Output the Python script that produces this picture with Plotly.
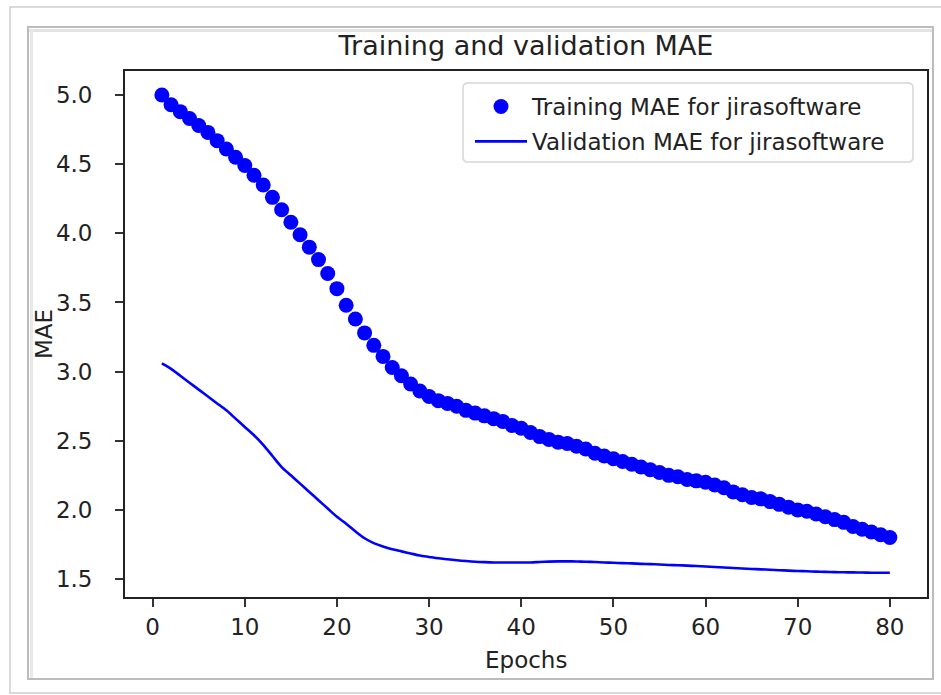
import plotly.graph_objects as go

# Training history (MAE per epoch)
epochs = list(range(1, 81))

train_mae = [
    5.00, 4.93, 4.88, 4.83, 4.78, 4.73, 4.67, 4.61, 4.55, 4.49,
    4.42, 4.35, 4.26, 4.17, 4.08, 3.99, 3.90, 3.81, 3.71, 3.60,
    3.48, 3.38, 3.28, 3.19, 3.11, 3.03, 2.97, 2.91, 2.86, 2.82,
    2.79, 2.77, 2.75, 2.72, 2.70, 2.68, 2.66, 2.64, 2.61, 2.59,
    2.56, 2.53, 2.51, 2.49, 2.48, 2.46, 2.44, 2.41, 2.39, 2.37,
    2.35, 2.33, 2.31, 2.29, 2.27, 2.25, 2.24, 2.22, 2.21, 2.20,
    2.18, 2.16, 2.13, 2.11, 2.09, 2.08, 2.06, 2.04, 2.02, 2.00,
    1.99, 1.97, 1.95, 1.93, 1.91, 1.88, 1.86, 1.84, 1.82, 1.80,
]

val_mae = [
    3.06, 3.02, 2.97, 2.92, 2.87, 2.82, 2.77, 2.72, 2.66, 2.60,
    2.54, 2.47, 2.39, 2.31, 2.25, 2.19, 2.13, 2.07, 2.01, 1.95,
    1.90, 1.845, 1.795, 1.76, 1.735, 1.715, 1.70, 1.685, 1.67, 1.66,
    1.65, 1.643, 1.636, 1.63, 1.625, 1.622, 1.62, 1.62, 1.62, 1.62,
    1.62, 1.623, 1.626, 1.628, 1.628, 1.627, 1.625, 1.623, 1.62, 1.618,
    1.615, 1.613, 1.61, 1.608, 1.605, 1.602, 1.60, 1.597, 1.594, 1.591,
    1.587, 1.583, 1.58, 1.576, 1.573, 1.57, 1.567, 1.564, 1.561, 1.558,
    1.556, 1.554, 1.552, 1.55, 1.549, 1.548, 1.547, 1.546, 1.545, 1.545,
]

x_ticks = [0, 10, 20, 30, 40, 50, 60, 70, 80]
y_ticks = [1.5, 2.0, 2.5, 3.0, 3.5, 4.0, 4.5, 5.0]

title_text = "Training and validation MAE"
x_label = "Epochs"
y_label = "MAE"
train_name = "Training MAE for jirasoftware"
val_name = "Validation MAE for jirasoftware"

W, H = 941, 695
FONT = "DejaVu Sans"
TEXT = "#222222"


def fx(p):
    return p / W


def fy(p):
    return 1 - p / H


fig = go.Figure()
fig.add_trace(go.Scatter(
    x=epochs, y=train_mae, mode="markers", name=train_name,
    legendgroup="train",
    marker=dict(color="blue", size=15, line=dict(width=0)),
))
fig.add_trace(go.Scatter(
    x=epochs, y=val_mae, mode="lines", name=val_name,
    legendgroup="val",
    line=dict(color="blue", width=2.6, shape="spline", smoothing=0.8),
))

axis_common = dict(
    showgrid=False, zeroline=False,
    showline=True, linecolor="#222222", linewidth=1.8, mirror=True,
    ticks="outside", ticklen=8, tickwidth=1.6, tickcolor="#333333",
    tickfont=dict(family=FONT, size=23, color=TEXT),
    automargin=False,
)

fig.update_layout(
    width=W, height=H,
    margin=dict(l=0, r=0, t=0, b=0),
    paper_bgcolor="white", plot_bgcolor="white",
    font=dict(family=FONT, color=TEXT),
    title=dict(
        text=title_text, x=fx(526), xanchor="center",
        y=fy(46), yanchor="middle",
        font=dict(family=FONT, size=27, color=TEXT),
    ),
    xaxis=dict(
        domain=[fx(125), fx(926.7)], range=[-3.0, 84.0],
        tickvals=x_ticks, ticktext=[str(v) for v in x_ticks],
        **axis_common,
    ),
    yaxis=dict(
        domain=[fy(597.3), fy(70.7)], range=[1.368, 5.176],
        tickvals=y_ticks, ticktext=[f"{v:.1f}" for v in y_ticks],
        ticklabelstandoff=18,
        **axis_common,
    ),
    legend=dict(
        x=fx(470), xanchor="left", y=fy(85), yanchor="top",
        bgcolor="rgba(0,0,0,0)", borderwidth=0,
        font=dict(family=FONT, size=23, color=TEXT),
        tracegroupgap=2, itemwidth=52,
    ),
    showlegend=True,
)

# legend box with rounded corners
lx0, ly0, lx1, ly1, rr = 463, 83, 913, 162, 5
box_path = (
    f"M {fx(lx0 + rr)},{fy(ly0)} L {fx(lx1 - rr)},{fy(ly0)} "
    f"Q {fx(lx1)},{fy(ly0)} {fx(lx1)},{fy(ly0 + rr)} "
    f"L {fx(lx1)},{fy(ly1 - rr)} Q {fx(lx1)},{fy(ly1)} {fx(lx1 - rr)},{fy(ly1)} "
    f"L {fx(lx0 + rr)},{fy(ly1)} Q {fx(lx0)},{fy(ly1)} {fx(lx0)},{fy(ly1 - rr)} "
    f"L {fx(lx0)},{fy(ly0 + rr)} Q {fx(lx0)},{fy(ly0)} {fx(lx0 + rr)},{fy(ly0)} Z"
)
fig.add_shape(type="path", xref="paper", yref="paper", path=box_path,
              fillcolor="rgba(255,255,255,0.85)",
              line=dict(color="#d6d6d6", width=1.5), layer="above")

# axis labels
fig.add_annotation(
    text=y_label, x=fx(44), y=fy(334), xref="paper", yref="paper",
    textangle=-90, showarrow=False, xanchor="center", yanchor="middle",
    font=dict(family=FONT, size=23, color=TEXT),
)
fig.add_annotation(
    text=x_label, x=fx(526), y=fy(660), xref="paper", yref="paper",
    showarrow=False, xanchor="center", yanchor="middle",
    font=dict(family=FONT, size=23, color=TEXT),
)

# window frame around the figure
fig.add_shape(type="rect", xref="paper", yref="paper",
              x0=fx(10), y0=fy(693), x1=fx(960), y1=fy(7),
              line=dict(color="#cdcdcd", width=1.5), layer="below")
fig.add_shape(type="rect", xref="paper", yref="paper",
              x0=fx(28), y0=fy(679), x1=fx(933), y1=fy(27),
              line=dict(color="#bcbcbc", width=2), layer="below")
fig.add_shape(type="line", xref="paper", yref="paper",
              x0=fx(29), y0=fy(30.5), x1=fx(932), y1=fy(30.5),
              line=dict(color="#e2e2e2", width=3), layer="below")
fig.add_shape(type="line", xref="paper", yref="paper",
              x0=fx(31.5), y0=fy(30), x1=fx(31.5), y1=fy(678),
              line=dict(color="#e8e8e8", width=3), layer="below")

fig.write_html("out.html")
